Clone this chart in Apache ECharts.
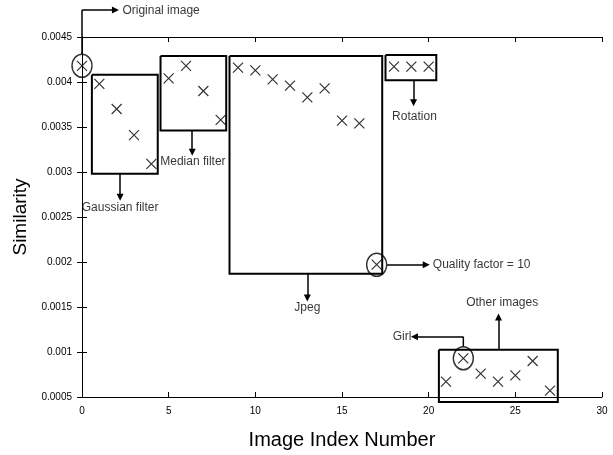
<!DOCTYPE html>
<html>
<head>
<meta charset="utf-8">
<script src="https://cdn.jsdelivr.net/npm/echarts@6/dist/echarts.min.js"></script>
<style>
  html, body { margin: 0; padding: 0; background: #fff; }
  #main { width: 613px; height: 455px; }
</style>
</head>
<body>
<div id="main"></div>
<script>
var imageIndex = [0, 1, 2, 3, 4, 5, 6, 7, 8, 9, 10, 11, 12, 13,
                  14, 15, 16, 17, 18, 19, 20, 21, 22, 23, 24, 25, 26, 27];
var similarity = [0.00418, 0.00398, 0.00370, 0.00341, 0.00309,
                  0.00404, 0.00418, 0.00390, 0.00358,
                  0.00416, 0.00413, 0.00403, 0.00396, 0.00383, 0.00393, 0.00357, 0.00354, 0.00197,
                  0.00417, 0.00417, 0.00417,
                  0.00067, 0.00093, 0.00076, 0.00067, 0.00074, 0.00090, 0.00057];
// points that get a circle round them
var circled = [0, 17, 22];

// group boxes: [xFrom, yTop, xTo, yBottom]
var boxes = [
  [0.57, 0.00408, 4.37, 0.00298],   // gaussian filter
  [4.53, 0.00429, 8.32, 0.00346],   // median filter
  [8.51, 0.00429, 17.32, 0.00187],  // jpeg
  [17.51, 0.00430, 20.44, 0.00402], // rotation
  [20.59, 0.001025, 27.45, 0.000445] // other images
];

// arrows as polylines in data coords, the head is on the last point
var arrows = [
  [[0, 0.00431], [0, 0.00480], [1.93, 0.00480]],
  [[2.2, 0.00298], [2.2, 0.00272]],
  [[6.36, 0.00346], [6.36, 0.00322]],
  [[13.0, 0.00187], [13.0, 0.00160]],
  [[19.13, 0.00402], [19.13, 0.00377]],
  [[17.6, 0.00197], [19.86, 0.00197]],
  [[22.0, 0.00106], [22.0, 0.00117], [19.18, 0.00117]],
  [[24.03, 0.001025], [24.03, 0.00139]]
];

// annotation texts: [text, x, y, align]
var notes = [
  ['Original image', 2.33, 0.00479, 'left'],
  ['Gaussian filter', 2.2, 0.00260, 'center'],
  ['Median filter', 6.4, 0.00312, 'center'],
  ['Jpeg', 13.0, 0.00149, 'center'],
  ['Rotation', 19.18, 0.00361, 'center'],
  ['Quality factor = 10', 20.24, 0.00197, 'left'],
  ['Girl', 19.0, 0.00117, 'right'],
  ['Other images', 24.24, 0.00155, 'center']
];

var font = 'Liberation Sans';
var myChart = echarts.init(document.getElementById('main'));

var points = imageIndex.map(function (x, i) { return [x, similarity[i]]; });

// split each arrow into shaft (no head) and last segment (with head)
var shafts = [], heads = [];
arrows.forEach(function (a) {
  if (a.length > 2) shafts.push({ coords: a.slice(0, a.length - 1) });
  heads.push({ coords: a.slice(a.length - 2) });
});

var boxLines = boxes.map(function (b) {
  return { coords: [[b[0], b[1]], [b[2], b[1]], [b[2], b[3]], [b[0], b[3]], [b[0], b[1]]] };
});

var axisCommon = {
  type: 'value',
  axisLine: { lineStyle: { color: '#000', width: 1 } },
  axisTick: { inside: true, length: 5, lineStyle: { color: '#000' } },
  splitLine: { show: false }
};

var option = {
  animation: false,
  grid: { left: 82, right: 11, top: 37, bottom: 58 },
  xAxis: [
    Object.assign({}, axisCommon, {
      min: 0, max: 30, interval: 5,
      name: 'Image Index Number', nameLocation: 'middle', nameGap: 33,
      nameTextStyle: { fontFamily: font, fontSize: 20, color: '#000' },
      axisLabel: { fontFamily: font, fontSize: 10, color: '#000', margin: 9 }
    }),
    Object.assign({}, axisCommon, {
      min: 0, max: 30, interval: 5, position: 'top',
      axisLabel: { show: false }
    })
  ],
  yAxis: [
    Object.assign({}, axisCommon, {
      min: 0.0005, max: 0.0045, interval: 0.0005,
      name: 'Similarity', nameLocation: 'middle', nameGap: 52,
      nameTextStyle: { fontFamily: font, fontSize: 19, color: '#000' },
      axisLabel: { fontFamily: font, fontSize: 10, color: '#000', margin: 10 }
    }),
    Object.assign({}, axisCommon, {
      min: 0.0005, max: 0.0045, interval: 0.0005, position: 'right',
      axisLabel: { show: false }
    })
  ],
  series: [
    {
      type: 'scatter',
      clip: false,
      symbol: 'path://M0,0L10,10M10,0L0,10',
      symbolSize: 10,
      itemStyle: { color: 'rgba(0,0,0,0)', borderColor: '#000', borderWidth: 1.2 },
      data: points
    },
    {
      type: 'scatter',
      clip: false,
      symbol: 'circle',
      symbolSize: [20, 23],
      itemStyle: { color: 'rgba(0,0,0,0)', borderColor: '#000', borderWidth: 1.5 },
      data: circled.map(function (i) { return points[i]; })
    },
    {
      type: 'lines',
      coordinateSystem: 'cartesian2d',
      polyline: true,
      clip: false,
      silent: true,
      lineStyle: { color: '#000', width: 2, opacity: 1 },
      data: boxLines
    },
    {
      type: 'lines',
      coordinateSystem: 'cartesian2d',
      polyline: true,
      clip: false,
      silent: true,
      lineStyle: { color: '#000', width: 1.5, opacity: 1 },
      data: shafts
    },
    {
      type: 'lines',
      coordinateSystem: 'cartesian2d',
      clip: false,
      silent: true,
      symbol: ['none', 'triangle'],
      symbolSize: 7,
      lineStyle: { color: '#000', width: 1.5, opacity: 1 },
      data: heads
    },
    {
      type: 'scatter',
      clip: false,
      symbolSize: 0,
      data: notes.map(function (n) {
        return {
          name: n[0], value: [n[1], n[2]],
          label: { align: n[3] }
        };
      }),
      label: {
        show: true, position: 'inside', formatter: '{b}',
        fontFamily: font, fontSize: 12, color: '#000', verticalAlign: 'middle'
      }
    }
  ]
};
myChart.setOption(option);
</script>
</body>
</html>
